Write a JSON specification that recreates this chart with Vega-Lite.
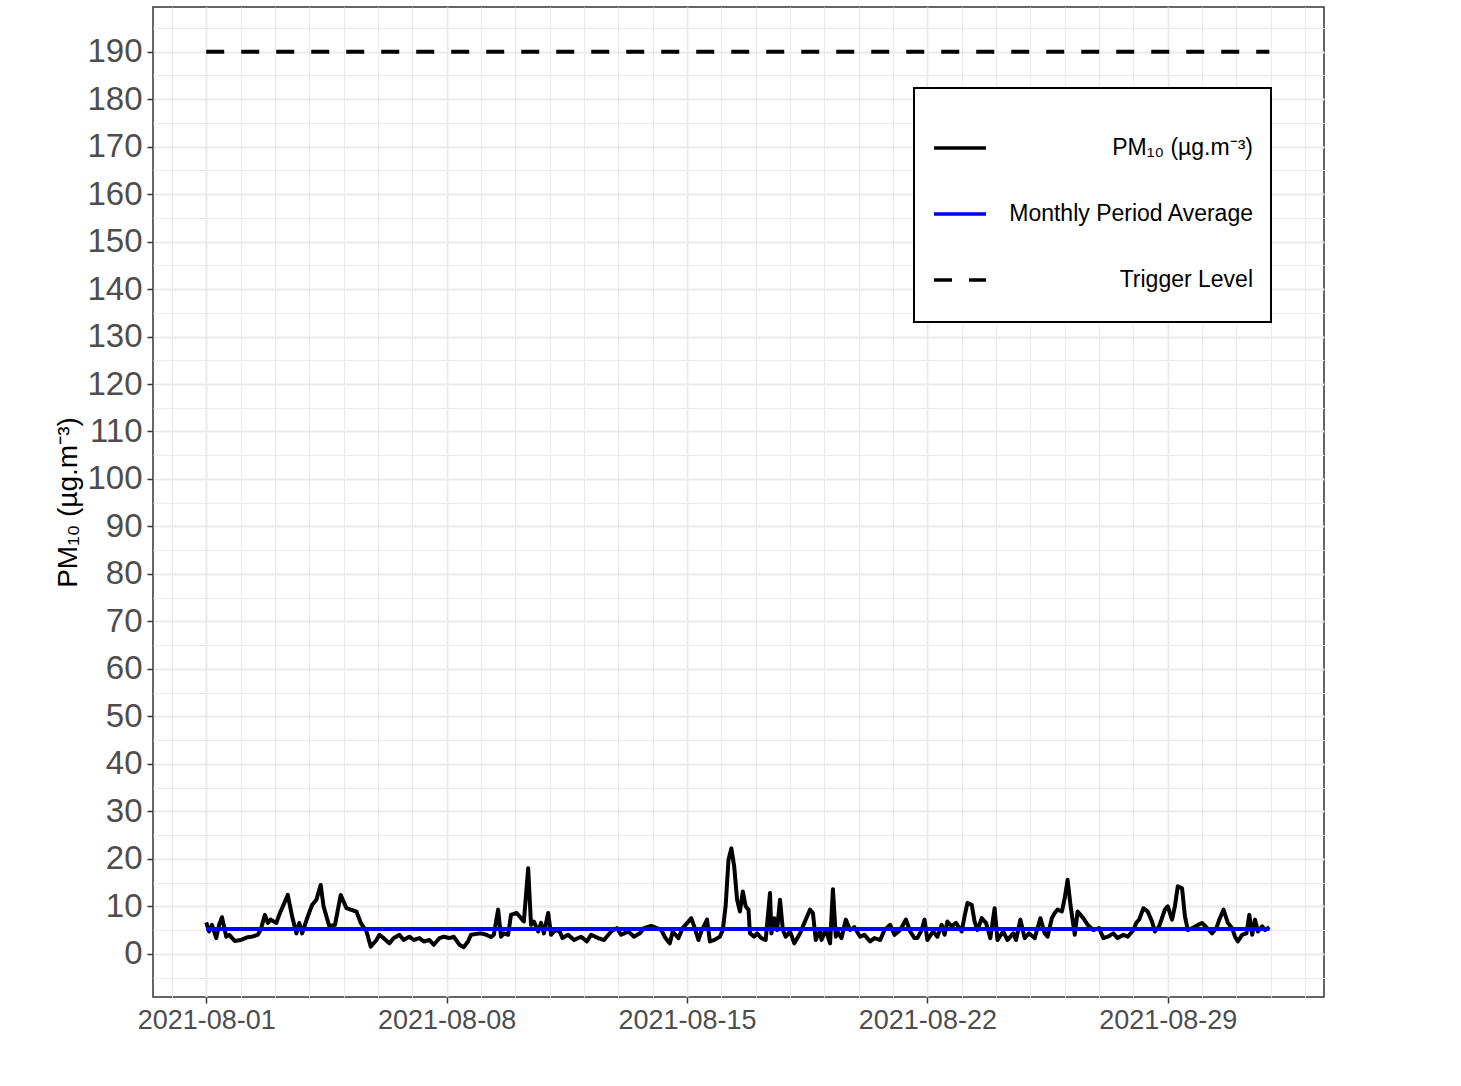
{
  "$schema": "https://vega.github.io/schema/vega-lite/v6.json",
  "autosize": "none",
  "width": 1171,
  "height": 990,
  "padding": {"left": 153, "top": 7, "right": 137, "bottom": 89},
  "background": "white",
  "datasets": {
    "pm": [
      {"t":"2021-08-01T00:00","v":6.6,"series":"PM₁₀ (µg.m⁻³)"},
      {"t":"2021-08-01T02:00","v":4.7,"series":"PM₁₀ (µg.m⁻³)"},
      {"t":"2021-08-01T04:00","v":6.1,"series":"PM₁₀ (µg.m⁻³)"},
      {"t":"2021-08-01T07:00","v":3.3,"series":"PM₁₀ (µg.m⁻³)"},
      {"t":"2021-08-01T09:00","v":6.1,"series":"PM₁₀ (µg.m⁻³)"},
      {"t":"2021-08-01T11:00","v":7.7,"series":"PM₁₀ (µg.m⁻³)"},
      {"t":"2021-08-01T14:00","v":3.6,"series":"PM₁₀ (µg.m⁻³)"},
      {"t":"2021-08-01T16:00","v":4.0,"series":"PM₁₀ (µg.m⁻³)"},
      {"t":"2021-08-01T20:00","v":2.7,"series":"PM₁₀ (µg.m⁻³)"},
      {"t":"2021-08-02T00:00","v":2.9,"series":"PM₁₀ (µg.m⁻³)"},
      {"t":"2021-08-02T05:00","v":3.5,"series":"PM₁₀ (µg.m⁻³)"},
      {"t":"2021-08-02T08:00","v":3.6,"series":"PM₁₀ (µg.m⁻³)"},
      {"t":"2021-08-02T12:00","v":4.0,"series":"PM₁₀ (µg.m⁻³)"},
      {"t":"2021-08-02T14:00","v":5.0,"series":"PM₁₀ (µg.m⁻³)"},
      {"t":"2021-08-02T17:00","v":8.2,"series":"PM₁₀ (µg.m⁻³)"},
      {"t":"2021-08-02T19:00","v":6.5,"series":"PM₁₀ (µg.m⁻³)"},
      {"t":"2021-08-02T21:00","v":7.2,"series":"PM₁₀ (µg.m⁻³)"},
      {"t":"2021-08-03T01:00","v":6.5,"series":"PM₁₀ (µg.m⁻³)"},
      {"t":"2021-08-03T03:00","v":8.2,"series":"PM₁₀ (µg.m⁻³)"},
      {"t":"2021-08-03T05:00","v":9.6,"series":"PM₁₀ (µg.m⁻³)"},
      {"t":"2021-08-03T09:00","v":12.4,"series":"PM₁₀ (µg.m⁻³)"},
      {"t":"2021-08-03T12:00","v":7.9,"series":"PM₁₀ (µg.m⁻³)"},
      {"t":"2021-08-03T15:00","v":4.3,"series":"PM₁₀ (µg.m⁻³)"},
      {"t":"2021-08-03T17:00","v":6.5,"series":"PM₁₀ (µg.m⁻³)"},
      {"t":"2021-08-03T19:00","v":4.3,"series":"PM₁₀ (µg.m⁻³)"},
      {"t":"2021-08-03T23:00","v":7.9,"series":"PM₁₀ (µg.m⁻³)"},
      {"t":"2021-08-04T02:00","v":10.3,"series":"PM₁₀ (µg.m⁻³)"},
      {"t":"2021-08-04T05:00","v":11.4,"series":"PM₁₀ (µg.m⁻³)"},
      {"t":"2021-08-04T08:00","v":14.5,"series":"PM₁₀ (µg.m⁻³)"},
      {"t":"2021-08-04T10:00","v":10.0,"series":"PM₁₀ (µg.m⁻³)"},
      {"t":"2021-08-04T14:00","v":5.8,"series":"PM₁₀ (µg.m⁻³)"},
      {"t":"2021-08-04T18:00","v":6.1,"series":"PM₁₀ (µg.m⁻³)"},
      {"t":"2021-08-04T22:00","v":12.4,"series":"PM₁₀ (µg.m⁻³)"},
      {"t":"2021-08-05T02:00","v":9.6,"series":"PM₁₀ (µg.m⁻³)"},
      {"t":"2021-08-05T05:00","v":9.3,"series":"PM₁₀ (µg.m⁻³)"},
      {"t":"2021-08-05T09:00","v":8.9,"series":"PM₁₀ (µg.m⁻³)"},
      {"t":"2021-08-05T12:00","v":6.5,"series":"PM₁₀ (µg.m⁻³)"},
      {"t":"2021-08-05T16:00","v":4.7,"series":"PM₁₀ (µg.m⁻³)"},
      {"t":"2021-08-05T19:00","v":1.5,"series":"PM₁₀ (µg.m⁻³)"},
      {"t":"2021-08-05T23:00","v":2.9,"series":"PM₁₀ (µg.m⁻³)"},
      {"t":"2021-08-06T01:00","v":4.0,"series":"PM₁₀ (µg.m⁻³)"},
      {"t":"2021-08-06T04:00","v":3.3,"series":"PM₁₀ (µg.m⁻³)"},
      {"t":"2021-08-06T08:00","v":2.2,"series":"PM₁₀ (µg.m⁻³)"},
      {"t":"2021-08-06T11:00","v":3.3,"series":"PM₁₀ (µg.m⁻³)"},
      {"t":"2021-08-06T15:00","v":4.0,"series":"PM₁₀ (µg.m⁻³)"},
      {"t":"2021-08-06T18:00","v":2.9,"series":"PM₁₀ (µg.m⁻³)"},
      {"t":"2021-08-06T22:00","v":3.6,"series":"PM₁₀ (µg.m⁻³)"},
      {"t":"2021-08-07T01:00","v":2.9,"series":"PM₁₀ (µg.m⁻³)"},
      {"t":"2021-08-07T05:00","v":3.3,"series":"PM₁₀ (µg.m⁻³)"},
      {"t":"2021-08-07T08:00","v":2.6,"series":"PM₁₀ (µg.m⁻³)"},
      {"t":"2021-08-07T12:00","v":2.9,"series":"PM₁₀ (µg.m⁻³)"},
      {"t":"2021-08-07T15:00","v":1.9,"series":"PM₁₀ (µg.m⁻³)"},
      {"t":"2021-08-07T19:00","v":3.3,"series":"PM₁₀ (µg.m⁻³)"},
      {"t":"2021-08-07T22:00","v":3.6,"series":"PM₁₀ (µg.m⁻³)"},
      {"t":"2021-08-08T02:00","v":3.3,"series":"PM₁₀ (µg.m⁻³)"},
      {"t":"2021-08-08T05:00","v":3.6,"series":"PM₁₀ (µg.m⁻³)"},
      {"t":"2021-08-08T09:00","v":1.9,"series":"PM₁₀ (µg.m⁻³)"},
      {"t":"2021-08-08T12:00","v":1.4,"series":"PM₁₀ (µg.m⁻³)"},
      {"t":"2021-08-08T15:00","v":2.6,"series":"PM₁₀ (µg.m⁻³)"},
      {"t":"2021-08-08T17:00","v":4.0,"series":"PM₁₀ (µg.m⁻³)"},
      {"t":"2021-08-08T21:00","v":4.2,"series":"PM₁₀ (µg.m⁻³)"},
      {"t":"2021-08-09T00:00","v":4.3,"series":"PM₁₀ (µg.m⁻³)"},
      {"t":"2021-08-09T04:00","v":4.0,"series":"PM₁₀ (µg.m⁻³)"},
      {"t":"2021-08-09T07:00","v":3.5,"series":"PM₁₀ (µg.m⁻³)"},
      {"t":"2021-08-09T09:00","v":4.0,"series":"PM₁₀ (µg.m⁻³)"},
      {"t":"2021-08-09T12:00","v":9.3,"series":"PM₁₀ (µg.m⁻³)"},
      {"t":"2021-08-09T14:00","v":3.6,"series":"PM₁₀ (µg.m⁻³)"},
      {"t":"2021-08-09T16:00","v":4.3,"series":"PM₁₀ (µg.m⁻³)"},
      {"t":"2021-08-09T19:00","v":4.0,"series":"PM₁₀ (µg.m⁻³)"},
      {"t":"2021-08-09T21:00","v":8.2,"series":"PM₁₀ (µg.m⁻³)"},
      {"t":"2021-08-10T01:00","v":8.6,"series":"PM₁₀ (µg.m⁻³)"},
      {"t":"2021-08-10T04:00","v":7.5,"series":"PM₁₀ (µg.m⁻³)"},
      {"t":"2021-08-10T06:00","v":6.8,"series":"PM₁₀ (µg.m⁻³)"},
      {"t":"2021-08-10T09:00","v":18.0,"series":"PM₁₀ (µg.m⁻³)"},
      {"t":"2021-08-10T11:00","v":6.1,"series":"PM₁₀ (µg.m⁻³)"},
      {"t":"2021-08-10T13:00","v":6.8,"series":"PM₁₀ (µg.m⁻³)"},
      {"t":"2021-08-10T16:00","v":4.7,"series":"PM₁₀ (µg.m⁻³)"},
      {"t":"2021-08-10T18:00","v":6.5,"series":"PM₁₀ (µg.m⁻³)"},
      {"t":"2021-08-10T20:00","v":4.3,"series":"PM₁₀ (µg.m⁻³)"},
      {"t":"2021-08-10T23:00","v":8.6,"series":"PM₁₀ (µg.m⁻³)"},
      {"t":"2021-08-11T01:00","v":4.0,"series":"PM₁₀ (µg.m⁻³)"},
      {"t":"2021-08-11T04:00","v":5.0,"series":"PM₁₀ (µg.m⁻³)"},
      {"t":"2021-08-11T07:00","v":4.7,"series":"PM₁₀ (µg.m⁻³)"},
      {"t":"2021-08-11T09:00","v":3.3,"series":"PM₁₀ (µg.m⁻³)"},
      {"t":"2021-08-11T13:00","v":4.0,"series":"PM₁₀ (µg.m⁻³)"},
      {"t":"2021-08-11T17:00","v":2.9,"series":"PM₁₀ (µg.m⁻³)"},
      {"t":"2021-08-11T22:00","v":3.6,"series":"PM₁₀ (µg.m⁻³)"},
      {"t":"2021-08-12T02:00","v":2.6,"series":"PM₁₀ (µg.m⁻³)"},
      {"t":"2021-08-12T05:00","v":4.0,"series":"PM₁₀ (µg.m⁻³)"},
      {"t":"2021-08-12T10:00","v":3.3,"series":"PM₁₀ (µg.m⁻³)"},
      {"t":"2021-08-12T14:00","v":2.9,"series":"PM₁₀ (µg.m⁻³)"},
      {"t":"2021-08-12T19:00","v":4.7,"series":"PM₁₀ (µg.m⁻³)"},
      {"t":"2021-08-12T23:00","v":5.4,"series":"PM₁₀ (µg.m⁻³)"},
      {"t":"2021-08-13T02:00","v":4.0,"series":"PM₁₀ (µg.m⁻³)"},
      {"t":"2021-08-13T07:00","v":4.7,"series":"PM₁₀ (µg.m⁻³)"},
      {"t":"2021-08-13T11:00","v":3.6,"series":"PM₁₀ (µg.m⁻³)"},
      {"t":"2021-08-13T15:00","v":4.3,"series":"PM₁₀ (µg.m⁻³)"},
      {"t":"2021-08-13T18:00","v":5.4,"series":"PM₁₀ (µg.m⁻³)"},
      {"t":"2021-08-13T23:00","v":5.9,"series":"PM₁₀ (µg.m⁻³)"},
      {"t":"2021-08-14T03:00","v":5.4,"series":"PM₁₀ (µg.m⁻³)"},
      {"t":"2021-08-14T06:00","v":5.0,"series":"PM₁₀ (µg.m⁻³)"},
      {"t":"2021-08-14T09:00","v":3.3,"series":"PM₁₀ (µg.m⁻³)"},
      {"t":"2021-08-14T12:00","v":2.2,"series":"PM₁₀ (µg.m⁻³)"},
      {"t":"2021-08-14T14:00","v":4.7,"series":"PM₁₀ (µg.m⁻³)"},
      {"t":"2021-08-14T18:00","v":3.3,"series":"PM₁₀ (µg.m⁻³)"},
      {"t":"2021-08-14T21:00","v":5.4,"series":"PM₁₀ (µg.m⁻³)"},
      {"t":"2021-08-15T01:00","v":6.8,"series":"PM₁₀ (µg.m⁻³)"},
      {"t":"2021-08-15T03:00","v":7.5,"series":"PM₁₀ (µg.m⁻³)"},
      {"t":"2021-08-15T05:00","v":5.8,"series":"PM₁₀ (µg.m⁻³)"},
      {"t":"2021-08-15T08:00","v":2.9,"series":"PM₁₀ (µg.m⁻³)"},
      {"t":"2021-08-15T10:00","v":4.7,"series":"PM₁₀ (µg.m⁻³)"},
      {"t":"2021-08-15T14:00","v":7.2,"series":"PM₁₀ (µg.m⁻³)"},
      {"t":"2021-08-15T16:00","v":2.6,"series":"PM₁₀ (µg.m⁻³)"},
      {"t":"2021-08-15T19:00","v":2.9,"series":"PM₁₀ (µg.m⁻³)"},
      {"t":"2021-08-15T23:00","v":3.6,"series":"PM₁₀ (µg.m⁻³)"},
      {"t":"2021-08-16T01:00","v":5.0,"series":"PM₁₀ (µg.m⁻³)"},
      {"t":"2021-08-16T03:00","v":10.0,"series":"PM₁₀ (µg.m⁻³)"},
      {"t":"2021-08-16T05:00","v":19.8,"series":"PM₁₀ (µg.m⁻³)"},
      {"t":"2021-08-16T07:00","v":22.2,"series":"PM₁₀ (µg.m⁻³)"},
      {"t":"2021-08-16T09:00","v":18.4,"series":"PM₁₀ (µg.m⁻³)"},
      {"t":"2021-08-16T11:00","v":11.4,"series":"PM₁₀ (µg.m⁻³)"},
      {"t":"2021-08-16T13:00","v":8.9,"series":"PM₁₀ (µg.m⁻³)"},
      {"t":"2021-08-16T15:00","v":13.1,"series":"PM₁₀ (µg.m⁻³)"},
      {"t":"2021-08-16T17:00","v":10.0,"series":"PM₁₀ (µg.m⁻³)"},
      {"t":"2021-08-16T19:00","v":9.3,"series":"PM₁₀ (µg.m⁻³)"},
      {"t":"2021-08-16T20:00","v":4.3,"series":"PM₁₀ (µg.m⁻³)"},
      {"t":"2021-08-16T23:00","v":3.6,"series":"PM₁₀ (µg.m⁻³)"},
      {"t":"2021-08-17T01:00","v":4.3,"series":"PM₁₀ (µg.m⁻³)"},
      {"t":"2021-08-17T04:00","v":3.3,"series":"PM₁₀ (µg.m⁻³)"},
      {"t":"2021-08-17T07:00","v":2.9,"series":"PM₁₀ (µg.m⁻³)"},
      {"t":"2021-08-17T10:00","v":12.8,"series":"PM₁₀ (µg.m⁻³)"},
      {"t":"2021-08-17T11:00","v":4.3,"series":"PM₁₀ (µg.m⁻³)"},
      {"t":"2021-08-17T13:00","v":7.5,"series":"PM₁₀ (µg.m⁻³)"},
      {"t":"2021-08-17T15:00","v":5.0,"series":"PM₁₀ (µg.m⁻³)"},
      {"t":"2021-08-17T17:00","v":11.4,"series":"PM₁₀ (µg.m⁻³)"},
      {"t":"2021-08-17T19:00","v":5.0,"series":"PM₁₀ (µg.m⁻³)"},
      {"t":"2021-08-17T21:00","v":3.6,"series":"PM₁₀ (µg.m⁻³)"},
      {"t":"2021-08-18T00:00","v":4.7,"series":"PM₁₀ (µg.m⁻³)"},
      {"t":"2021-08-18T03:00","v":2.2,"series":"PM₁₀ (µg.m⁻³)"},
      {"t":"2021-08-18T07:00","v":4.3,"series":"PM₁₀ (µg.m⁻³)"},
      {"t":"2021-08-18T10:00","v":6.5,"series":"PM₁₀ (µg.m⁻³)"},
      {"t":"2021-08-18T14:00","v":9.3,"series":"PM₁₀ (µg.m⁻³)"},
      {"t":"2021-08-18T16:00","v":8.6,"series":"PM₁₀ (µg.m⁻³)"},
      {"t":"2021-08-18T18:00","v":2.9,"series":"PM₁₀ (µg.m⁻³)"},
      {"t":"2021-08-18T21:00","v":5.0,"series":"PM₁₀ (µg.m⁻³)"},
      {"t":"2021-08-18T22:00","v":2.9,"series":"PM₁₀ (µg.m⁻³)"},
      {"t":"2021-08-19T01:00","v":5.0,"series":"PM₁₀ (µg.m⁻³)"},
      {"t":"2021-08-19T04:00","v":2.2,"series":"PM₁₀ (µg.m⁻³)"},
      {"t":"2021-08-19T06:00","v":13.6,"series":"PM₁₀ (µg.m⁻³)"},
      {"t":"2021-08-19T08:00","v":3.6,"series":"PM₁₀ (µg.m⁻³)"},
      {"t":"2021-08-19T09:00","v":4.7,"series":"PM₁₀ (µg.m⁻³)"},
      {"t":"2021-08-19T12:00","v":3.3,"series":"PM₁₀ (µg.m⁻³)"},
      {"t":"2021-08-19T15:00","v":7.2,"series":"PM₁₀ (µg.m⁻³)"},
      {"t":"2021-08-19T18:00","v":5.0,"series":"PM₁₀ (µg.m⁻³)"},
      {"t":"2021-08-19T21:00","v":5.6,"series":"PM₁₀ (µg.m⁻³)"},
      {"t":"2021-08-20T01:00","v":3.6,"series":"PM₁₀ (µg.m⁻³)"},
      {"t":"2021-08-20T04:00","v":4.0,"series":"PM₁₀ (µg.m⁻³)"},
      {"t":"2021-08-20T08:00","v":2.6,"series":"PM₁₀ (µg.m⁻³)"},
      {"t":"2021-08-20T11:00","v":3.3,"series":"PM₁₀ (µg.m⁻³)"},
      {"t":"2021-08-20T15:00","v":2.9,"series":"PM₁₀ (µg.m⁻³)"},
      {"t":"2021-08-20T18:00","v":5.0,"series":"PM₁₀ (µg.m⁻³)"},
      {"t":"2021-08-20T22:00","v":6.1,"series":"PM₁₀ (µg.m⁻³)"},
      {"t":"2021-08-21T01:00","v":4.0,"series":"PM₁₀ (µg.m⁻³)"},
      {"t":"2021-08-21T05:00","v":5.0,"series":"PM₁₀ (µg.m⁻³)"},
      {"t":"2021-08-21T09:00","v":7.2,"series":"PM₁₀ (µg.m⁻³)"},
      {"t":"2021-08-21T12:00","v":4.7,"series":"PM₁₀ (µg.m⁻³)"},
      {"t":"2021-08-21T15:00","v":3.3,"series":"PM₁₀ (µg.m⁻³)"},
      {"t":"2021-08-21T17:00","v":3.3,"series":"PM₁₀ (µg.m⁻³)"},
      {"t":"2021-08-21T20:00","v":5.0,"series":"PM₁₀ (µg.m⁻³)"},
      {"t":"2021-08-21T22:00","v":7.2,"series":"PM₁₀ (µg.m⁻³)"},
      {"t":"2021-08-22T00:00","v":2.9,"series":"PM₁₀ (µg.m⁻³)"},
      {"t":"2021-08-22T04:00","v":4.7,"series":"PM₁₀ (µg.m⁻³)"},
      {"t":"2021-08-22T07:00","v":3.6,"series":"PM₁₀ (µg.m⁻³)"},
      {"t":"2021-08-22T10:00","v":6.1,"series":"PM₁₀ (µg.m⁻³)"},
      {"t":"2021-08-22T12:00","v":4.0,"series":"PM₁₀ (µg.m⁻³)"},
      {"t":"2021-08-22T14:00","v":6.8,"series":"PM₁₀ (µg.m⁻³)"},
      {"t":"2021-08-22T17:00","v":5.8,"series":"PM₁₀ (µg.m⁻³)"},
      {"t":"2021-08-22T20:00","v":6.5,"series":"PM₁₀ (µg.m⁻³)"},
      {"t":"2021-08-23T00:00","v":4.7,"series":"PM₁₀ (µg.m⁻³)"},
      {"t":"2021-08-23T02:00","v":7.9,"series":"PM₁₀ (µg.m⁻³)"},
      {"t":"2021-08-23T04:00","v":10.7,"series":"PM₁₀ (µg.m⁻³)"},
      {"t":"2021-08-23T07:00","v":10.3,"series":"PM₁₀ (µg.m⁻³)"},
      {"t":"2021-08-23T09:00","v":6.8,"series":"PM₁₀ (µg.m⁻³)"},
      {"t":"2021-08-23T11:00","v":5.0,"series":"PM₁₀ (µg.m⁻³)"},
      {"t":"2021-08-23T14:00","v":7.5,"series":"PM₁₀ (µg.m⁻³)"},
      {"t":"2021-08-23T17:00","v":6.5,"series":"PM₁₀ (µg.m⁻³)"},
      {"t":"2021-08-23T20:00","v":3.3,"series":"PM₁₀ (µg.m⁻³)"},
      {"t":"2021-08-23T23:00","v":9.6,"series":"PM₁₀ (µg.m⁻³)"},
      {"t":"2021-08-24T01:00","v":2.9,"series":"PM₁₀ (µg.m⁻³)"},
      {"t":"2021-08-24T05:00","v":4.7,"series":"PM₁₀ (µg.m⁻³)"},
      {"t":"2021-08-24T08:00","v":2.9,"series":"PM₁₀ (µg.m⁻³)"},
      {"t":"2021-08-24T12:00","v":4.3,"series":"PM₁₀ (µg.m⁻³)"},
      {"t":"2021-08-24T14:00","v":2.9,"series":"PM₁₀ (µg.m⁻³)"},
      {"t":"2021-08-24T17:00","v":7.2,"series":"PM₁₀ (µg.m⁻³)"},
      {"t":"2021-08-24T20:00","v":3.3,"series":"PM₁₀ (µg.m⁻³)"},
      {"t":"2021-08-24T23:00","v":4.3,"series":"PM₁₀ (µg.m⁻³)"},
      {"t":"2021-08-25T03:00","v":3.3,"series":"PM₁₀ (µg.m⁻³)"},
      {"t":"2021-08-25T07:00","v":7.5,"series":"PM₁₀ (µg.m⁻³)"},
      {"t":"2021-08-25T10:00","v":4.3,"series":"PM₁₀ (µg.m⁻³)"},
      {"t":"2021-08-25T12:00","v":3.6,"series":"PM₁₀ (µg.m⁻³)"},
      {"t":"2021-08-25T15:00","v":7.5,"series":"PM₁₀ (µg.m⁻³)"},
      {"t":"2021-08-25T17:00","v":8.6,"series":"PM₁₀ (µg.m⁻³)"},
      {"t":"2021-08-25T19:00","v":9.3,"series":"PM₁₀ (µg.m⁻³)"},
      {"t":"2021-08-25T22:00","v":8.9,"series":"PM₁₀ (µg.m⁻³)"},
      {"t":"2021-08-26T00:00","v":11.7,"series":"PM₁₀ (µg.m⁻³)"},
      {"t":"2021-08-26T02:00","v":15.6,"series":"PM₁₀ (µg.m⁻³)"},
      {"t":"2021-08-26T04:00","v":10.3,"series":"PM₁₀ (µg.m⁻³)"},
      {"t":"2021-08-26T07:00","v":4.0,"series":"PM₁₀ (µg.m⁻³)"},
      {"t":"2021-08-26T09:00","v":8.9,"series":"PM₁₀ (µg.m⁻³)"},
      {"t":"2021-08-26T13:00","v":7.5,"series":"PM₁₀ (µg.m⁻³)"},
      {"t":"2021-08-26T16:00","v":6.1,"series":"PM₁₀ (µg.m⁻³)"},
      {"t":"2021-08-26T20:00","v":5.0,"series":"PM₁₀ (µg.m⁻³)"},
      {"t":"2021-08-27T00:00","v":5.4,"series":"PM₁₀ (µg.m⁻³)"},
      {"t":"2021-08-27T03:00","v":3.3,"series":"PM₁₀ (µg.m⁻³)"},
      {"t":"2021-08-27T06:00","v":3.6,"series":"PM₁₀ (µg.m⁻³)"},
      {"t":"2021-08-27T10:00","v":4.3,"series":"PM₁₀ (µg.m⁻³)"},
      {"t":"2021-08-27T13:00","v":3.3,"series":"PM₁₀ (µg.m⁻³)"},
      {"t":"2021-08-27T17:00","v":4.0,"series":"PM₁₀ (µg.m⁻³)"},
      {"t":"2021-08-27T20:00","v":3.6,"series":"PM₁₀ (µg.m⁻³)"},
      {"t":"2021-08-28T00:00","v":5.0,"series":"PM₁₀ (µg.m⁻³)"},
      {"t":"2021-08-28T02:00","v":6.5,"series":"PM₁₀ (µg.m⁻³)"},
      {"t":"2021-08-28T04:00","v":7.2,"series":"PM₁₀ (µg.m⁻³)"},
      {"t":"2021-08-28T07:00","v":9.6,"series":"PM₁₀ (µg.m⁻³)"},
      {"t":"2021-08-28T10:00","v":8.9,"series":"PM₁₀ (µg.m⁻³)"},
      {"t":"2021-08-28T13:00","v":6.8,"series":"PM₁₀ (µg.m⁻³)"},
      {"t":"2021-08-28T15:00","v":4.7,"series":"PM₁₀ (µg.m⁻³)"},
      {"t":"2021-08-28T18:00","v":5.8,"series":"PM₁₀ (µg.m⁻³)"},
      {"t":"2021-08-28T22:00","v":9.3,"series":"PM₁₀ (µg.m⁻³)"},
      {"t":"2021-08-29T00:00","v":10.0,"series":"PM₁₀ (µg.m⁻³)"},
      {"t":"2021-08-29T03:00","v":7.2,"series":"PM₁₀ (µg.m⁻³)"},
      {"t":"2021-08-29T05:00","v":10.0,"series":"PM₁₀ (µg.m⁻³)"},
      {"t":"2021-08-29T07:00","v":14.2,"series":"PM₁₀ (µg.m⁻³)"},
      {"t":"2021-08-29T10:00","v":13.8,"series":"PM₁₀ (µg.m⁻³)"},
      {"t":"2021-08-29T12:00","v":7.9,"series":"PM₁₀ (µg.m⁻³)"},
      {"t":"2021-08-29T14:00","v":5.0,"series":"PM₁₀ (µg.m⁻³)"},
      {"t":"2021-08-29T17:00","v":5.4,"series":"PM₁₀ (µg.m⁻³)"},
      {"t":"2021-08-29T20:00","v":5.9,"series":"PM₁₀ (µg.m⁻³)"},
      {"t":"2021-08-30T00:00","v":6.5,"series":"PM₁₀ (µg.m⁻³)"},
      {"t":"2021-08-30T03:00","v":5.6,"series":"PM₁₀ (µg.m⁻³)"},
      {"t":"2021-08-30T07:00","v":4.3,"series":"PM₁₀ (µg.m⁻³)"},
      {"t":"2021-08-30T10:00","v":5.4,"series":"PM₁₀ (µg.m⁻³)"},
      {"t":"2021-08-30T12:00","v":7.2,"series":"PM₁₀ (µg.m⁻³)"},
      {"t":"2021-08-30T15:00","v":9.3,"series":"PM₁₀ (µg.m⁻³)"},
      {"t":"2021-08-30T18:00","v":6.5,"series":"PM₁₀ (µg.m⁻³)"},
      {"t":"2021-08-30T21:00","v":5.4,"series":"PM₁₀ (µg.m⁻³)"},
      {"t":"2021-08-30T23:00","v":3.6,"series":"PM₁₀ (µg.m⁻³)"},
      {"t":"2021-08-31T01:00","v":2.6,"series":"PM₁₀ (µg.m⁻³)"},
      {"t":"2021-08-31T04:00","v":4.0,"series":"PM₁₀ (µg.m⁻³)"},
      {"t":"2021-08-31T07:00","v":4.3,"series":"PM₁₀ (µg.m⁻³)"},
      {"t":"2021-08-31T09:00","v":8.2,"series":"PM₁₀ (µg.m⁻³)"},
      {"t":"2021-08-31T11:00","v":4.0,"series":"PM₁₀ (µg.m⁻³)"},
      {"t":"2021-08-31T13:00","v":7.2,"series":"PM₁₀ (µg.m⁻³)"},
      {"t":"2021-08-31T15:00","v":4.7,"series":"PM₁₀ (µg.m⁻³)"},
      {"t":"2021-08-31T18:00","v":5.8,"series":"PM₁₀ (µg.m⁻³)"},
      {"t":"2021-08-31T20:00","v":5.0,"series":"PM₁₀ (µg.m⁻³)"},
      {"t":"2021-08-31T23:00","v":5.6,"series":"PM₁₀ (µg.m⁻³)"}
    ],
    "avg": [
      {"t":"2021-08-01T00:00","v":5.2,"series":"Monthly Period Average"},
      {"t":"2021-08-31T23:00","v":5.2,"series":"Monthly Period Average"}
    ],
    "trig": [
      {"t":"2021-08-01T00:00","v":190,"series":"Trigger Level"},
      {"t":"2021-08-31T23:00","v":190,"series":"Trigger Level"}
    ]
  },
  "encoding": {
    "x": {
      "field": "t", "type": "temporal",
      "scale": {"domain": [{"year":2021,"month":7,"date":30,"hours":10,"minutes":48},{"year":2021,"month":9,"date":2,"hours":13,"minutes":12}], "nice": false},
      "axis": {
        "title": null,
        "tickCount": {"interval": "day", "step": 1},
        "labelExpr": "(month(datum.value) == 7 && indexof([1,8,15,22,29], date(datum.value)) >= 0) ? timeFormat(datum.value, '%Y-%m-%d') : ''",
        "labelFontSize": 27,
        "labelPadding": 4,
        "tickOpacity": {"condition": {"test": "month(datum.value) == 7 && indexof([1,8,15,22,29], date(datum.value)) >= 0", "value": 1}, "value": 0},
        "gridWidth": {"condition": {"test": "month(datum.value) == 7 && indexof([1,8,15,22,29], date(datum.value)) >= 0", "value": 2}, "value": 1}
      }
    },
    "y": {
      "field": "v", "type": "quantitative",
      "scale": {"domain": [-9.1, 199.4], "nice": false, "zero": false},
      "axis": {
        "title": "PM₁₀ (µg.m⁻³)",
        "values": [-5,0,5,10,15,20,25,30,35,40,45,50,55,60,65,70,75,80,85,90,95,100,105,110,115,120,125,130,135,140,145,150,155,160,165,170,175,180,185,190,195],
        "labelExpr": "datum.value % 10 == 0 ? datum.label : ''",
        "labelFontSize": 33,
        "labelPadding": 5,
        "titleFontSize": 28,
        "titlePadding": 4,
        "tickOpacity": {"condition": {"test": "datum.value % 10 == 0", "value": 1}, "value": 0},
        "gridWidth": {"condition": {"test": "datum.value % 10 == 0", "value": 2}, "value": 1}
      }
    },
    "color": {
      "field": "series", "type": "nominal",
      "scale": {"domain": ["PM₁₀ (µg.m⁻³)", "Monthly Period Average", "Trigger Level"], "range": ["#000000", "#0000FF", "#000000"]},
      "legend": {"title": null}
    },
    "strokeDash": {
      "field": "series", "type": "nominal",
      "scale": {"domain": ["PM₁₀ (µg.m⁻³)", "Monthly Period Average", "Trigger Level"], "range": [[1,0],[1,0],[18,17]]},
      "legend": {"title": null}
    }
  },
  "layer": [
    {"data": {"name": "pm"}, "mark": {"type": "line", "strokeWidth": 4, "strokeJoin": "round"}},
    {"data": {"name": "avg"}, "mark": {"type": "line", "strokeWidth": 4}},
    {"data": {"name": "trig"}, "mark": {"type": "line", "strokeWidth": 4}}
  ],
  "config": {
    "font": "Liberation Sans",
    "view": {"stroke": "#333333", "strokeWidth": 1.5},
    "axis": {
      "labelFont": "Liberation Sans",
      "labelColor": "#4D4D4D",
      "titleFont": "Liberation Sans",
      "titleColor": "#000000",
      "titleFontWeight": "normal",
      "tickColor": "#333333",
      "tickWidth": 1.5,
      "tickSize": 6,
      "domain": false,
      "grid": true,
      "gridColor": "#EBEBEB",
      "labelOverlap": false,
      "labelFlush": false,
      "labelBound": false
    },
    "legend": {
      "orient": "none",
      "legendX": 761,
      "legendY": 81,
      "padding": 18,
      "fillColor": "white",
      "strokeColor": "#000000",
      "strokeWidth": 2,
      "symbolType": "M-0.65,0H0.65M0,0.42",
      "symbolSize": 6400,
      "symbolStrokeWidth": 3.5,
      "symbolOffset": -14,
      "labelAlign": "right",
      "labelOffset": 251,
      "labelLimit": 600,
      "labelFont": "Liberation Sans",
      "labelFontSize": 23,
      "labelColor": "#000000",
      "rowPadding": 0
    }
  }
}
